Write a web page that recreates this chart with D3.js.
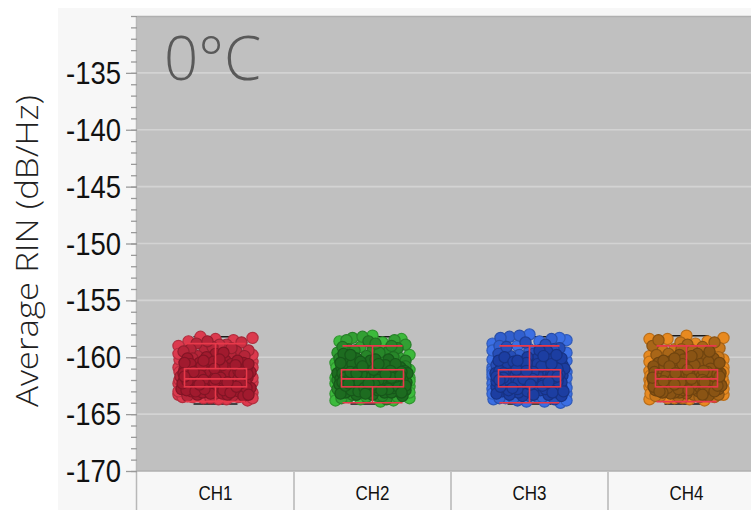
<!DOCTYPE html>
<html>
<head>
<meta charset="utf-8">
<script src="https://cdn.jsdelivr.net/npm/d3@7"></script>
<style>
  html, body { margin: 0; padding: 0; background: #ffffff; }
  svg { display: block; }
</style>
</head>
<body>
<svg id="chart" width="751" height="510"></svg>
<script>
// Channel names along the x axis
const channels = ["CH1", "CH2", "CH3", "CH4"];

// Average RIN readings (dB/Hz) per channel
const ch1Values = [
  -161.4, -162.1, -160.8, -163.2, -161.9, -159.7, -162.5, -161.1, -163.6, -160.3,
  -162.0, -161.6, -158.4, -162.8, -161.3, -163.0, -160.9, -162.3, -161.8, -159.2,
  -162.6, -161.0, -163.4, -160.5, -161.7, -162.2, -158.9, -162.9, -161.5, -163.7,
  -160.1, -162.4, -161.2, -159.5, -162.7, -161.9, -163.3, -160.7, -161.4, -162.0,
  -158.2, -162.5, -161.8, -163.1, -160.4, -161.6, -162.3, -159.9, -162.8, -161.1,
  -163.5, -160.6, -162.1, -161.3, -158.6, -162.6, -161.9, -163.8, -160.2, -161.5,
  -162.4, -159.4, -162.9, -161.7, -163.0, -160.8, -162.2, -161.0, -159.0, -162.7,
  -161.6, -163.3, -160.9, -162.0, -161.2, -158.7, -162.5, -161.8, -163.6, -160.0,
  -161.4, -162.3, -159.6, -162.8, -161.5, -163.2, -160.5, -162.1, -161.9, -158.3,
  -162.6, -161.3, -163.4, -160.3, -161.7, -162.4, -159.8, -163.0, -161.1, -162.2,
  -161.2, -162.4, -160.6, -163.1, -161.8, -159.9, -162.7, -161.4, -163.5, -160.4,
  -162.2, -161.7, -158.8, -162.9, -161.0, -163.3, -160.7, -162.0, -161.6, -159.3,
  -162.5, -161.3, -163.6, -160.2, -161.9, -162.3, -158.5, -162.8, -161.5, -163.2,
  -160.9, -162.6, -161.1, -159.1, -162.1, -161.8, -163.4, -160.5, -161.7, -162.4,
  -159.8, -162.9, -161.4, -163.0, -160.8, -161.9, -162.5, -159.5, -162.2, -161.6,
  -163.7, -160.1, -162.0, -161.2, -158.9, -162.7, -161.5, -163.1, -160.6, -161.3,
  -162.3, -159.7, -162.6, -161.8, -163.5, -160.3, -162.1, -161.0, -159.2, -162.8,
  -161.9, -163.3, -160.7, -162.4, -161.4, -158.6, -162.2, -161.7, -163.0, -160.0
];
const ch2Values = [
  -161.5, -162.0, -160.6, -163.3, -161.8, -159.4, -162.4, -161.2, -163.7, -160.2,
  -162.1, -161.7, -158.1, -162.9, -161.4, -163.1, -160.8, -162.3, -161.9, -159.1,
  -162.6, -161.1, -163.5, -160.4, -161.6, -162.2, -158.7, -162.8, -161.3, -163.8,
  -160.0, -162.5, -161.0, -159.6, -162.7, -161.9, -163.2, -160.9, -161.5, -162.0,
  -158.3, -162.4, -161.7, -163.0, -160.5, -161.8, -162.2, -159.8, -162.9, -161.2,
  -163.6, -160.7, -162.1, -161.4, -158.5, -162.6, -161.9, -163.9, -160.1, -161.6,
  -162.3, -159.3, -163.0, -161.8, -163.1, -160.9, -162.2, -161.0, -158.9, -162.7,
  -161.6, -163.4, -160.8, -162.0, -161.3, -158.6, -162.5, -161.9, -163.6, -160.3,
  -161.4, -162.4, -159.5, -162.8, -161.5, -163.3, -160.6, -162.1, -161.7, -158.2,
  -162.6, -161.2, -163.5, -160.2, -161.8, -162.3, -159.9, -163.1, -161.0, -162.2,
  -161.3, -162.5, -160.7, -163.0, -161.9, -159.7, -162.6, -161.5, -163.4, -160.3,
  -162.1, -161.8, -158.6, -162.8, -161.1, -163.2, -160.6, -162.2, -161.7, -159.2,
  -162.4, -161.4, -163.7, -160.1, -161.8, -162.3, -158.4, -162.9, -161.6, -163.1,
  -160.8, -162.7, -161.2, -159.0, -162.0, -161.9, -163.5, -160.4, -161.6, -162.5,
  -159.6, -162.8, -161.3, -163.3, -160.9, -162.0, -162.4, -159.4, -162.1, -161.5,
  -163.8, -160.2, -162.2, -161.1, -158.8, -162.6, -161.4, -163.0, -160.5, -161.2,
  -162.3, -159.8, -162.7, -161.7, -163.4, -160.6, -162.0, -161.3, -159.1, -162.9,
  -161.8, -163.2, -160.8, -162.5, -161.5, -158.5, -162.3, -161.6, -163.1, -160.0
];
const ch3Values = [
  -161.3, -162.0, -160.5, -163.4, -161.7, -159.3, -162.5, -161.0, -163.8, -160.1,
  -162.1, -161.6, -158.0, -162.9, -161.2, -163.1, -160.7, -162.3, -161.8, -159.0,
  -162.6, -160.9, -163.6, -160.3, -161.5, -162.2, -158.6, -162.8, -161.4, -163.9,
  -159.9, -162.4, -161.1, -159.5, -162.7, -161.8, -163.2, -160.8, -161.3, -161.9,
  -158.2, -162.5, -161.7, -163.0, -160.4, -161.5, -162.2, -159.7, -162.9, -161.0,
  -163.7, -160.6, -162.0, -161.2, -158.4, -162.6, -161.8, -164.0, -160.0, -161.4,
  -162.3, -159.2, -163.0, -161.6, -163.3, -160.8, -162.1, -160.9, -158.8, -162.7,
  -161.5, -163.5, -160.7, -161.9, -161.1, -158.5, -162.4, -161.7, -163.7, -160.2,
  -161.3, -162.3, -159.4, -162.8, -161.4, -163.2, -160.5, -162.0, -161.6, -158.1,
  -162.6, -161.2, -163.4, -160.3, -161.6, -162.2, -159.8, -163.1, -161.0, -162.1,
  -161.1, -162.3, -160.4, -163.3, -161.6, -159.6, -162.8, -161.3, -163.6, -160.2,
  -162.0, -161.9, -158.3, -162.7, -161.0, -163.4, -160.6, -162.1, -161.5, -159.1,
  -162.4, -161.2, -163.8, -160.0, -161.7, -162.2, -158.7, -162.9, -161.4, -163.0,
  -160.7, -162.5, -161.0, -159.3, -162.1, -161.7, -163.5, -160.5, -161.8, -162.3,
  -159.7, -162.6, -161.2, -163.1, -160.8, -161.8, -162.4, -159.4, -162.0, -161.5,
  -163.9, -160.1, -162.1, -161.3, -158.9, -162.8, -161.6, -163.2, -160.4, -161.1,
  -162.2, -159.9, -162.5, -161.9, -163.6, -160.3, -161.9, -161.0, -159.0, -162.7,
  -161.7, -163.3, -160.6, -162.4, -161.2, -158.3, -162.2, -161.5, -163.0, -159.8
];
const ch4Values = [
  -161.5, -162.1, -160.7, -163.2, -161.9, -159.6, -162.4, -161.2, -163.6, -160.3,
  -162.0, -161.7, -158.1, -162.8, -161.4, -163.0, -160.9, -162.3, -161.8, -159.3,
  -162.6, -161.1, -163.4, -160.5, -161.6, -162.2, -158.8, -162.9, -161.5, -163.7,
  -160.1, -162.5, -161.2, -159.4, -162.7, -161.9, -163.3, -160.8, -161.4, -162.0,
  -158.4, -162.4, -161.8, -163.1, -160.4, -161.7, -162.3, -159.9, -162.8, -161.1,
  -163.5, -160.6, -162.1, -161.3, -158.6, -162.6, -161.9, -163.8, -160.2, -161.6,
  -162.3, -159.2, -162.9, -161.7, -163.0, -160.9, -162.2, -161.0, -159.0, -162.7,
  -161.6, -163.3, -160.8, -162.0, -161.3, -158.7, -162.5, -161.8, -163.6, -160.0,
  -161.5, -162.2, -159.7, -162.8, -161.4, -163.2, -160.6, -162.1, -161.9, -158.3,
  -162.6, -161.3, -163.4, -160.4, -161.7, -162.4, -159.8, -163.0, -161.1, -162.2,
  -161.2, -162.3, -160.8, -163.1, -161.7, -159.8, -162.6, -161.4, -163.5, -160.4,
  -162.2, -161.9, -158.9, -162.9, -161.0, -163.3, -160.6, -162.0, -161.5, -159.5,
  -162.4, -161.3, -163.6, -160.2, -161.8, -162.1, -158.5, -162.7, -161.6, -163.2,
  -160.9, -162.5, -161.1, -159.1, -162.0, -161.7, -163.4, -160.5, -161.9, -162.4,
  -159.7, -162.8, -161.4, -163.0, -160.7, -161.8, -162.6, -159.4, -162.3, -161.5,
  -163.7, -160.3, -162.2, -161.2, -158.7, -162.7, -161.6, -163.1, -160.6, -161.3,
  -162.1, -159.9, -162.5, -161.8, -163.5, -160.1, -162.0, -161.1, -159.3, -162.9,
  -161.9, -163.3, -160.8, -162.4, -161.4, -158.4, -162.2, -161.7, -163.0, -160.0
];

// Box statistics per channel (dB/Hz)
const whiskerHigh = [-158.8, -159.0, -159.0, -159.0];
const q3 = [-161.0, -161.1, -161.1, -161.1];
const medians = [-161.9, -161.9, -161.7, -161.9];
const q1 = [-162.6, -162.6, -162.6, -162.6];
const whiskerLow = [-163.9, -164.0, -164.0, -163.9];
const maxima = [-158.2, -158.2, -158.2, -158.1];
const minima = [-164.1, -164.1, -164.1, -164.1];

// Axis ticks
const majorTicks = [-170, -165, -160, -155, -150, -145, -140, -135];
const minorTicks = d3.range(-170, -129, 1);

// Point colours per channel: outer (edge) shade and overlapped (interior) shade
const lightFill = ["#dc3a4e", "#3cba3c", "#3b6fe4", "#e88a20"];
const denseFill = ["#a11a2e", "#1d6c20", "#1c3ea2", "#8a5414"];

const series = [ch1Values, ch2Values, ch3Values, ch4Values];

const svg = d3.select("#chart");
const plot = { left: 137, right: 765, top: 16, bottom: 471 };

const x = d3.scaleBand().domain(channels).range([plot.left, plot.right]).padding(0);
const y = d3.scaleLinear().domain([-170, -130]).range([plot.bottom, plot.top]);

const narrowFont = "'Liberation Sans', Arial, sans-serif";

// light panel behind the chart
svg.append("rect")
  .attr("x", 58).attr("y", 8).attr("width", 700).attr("height", 510)
  .attr("fill", "#f7f7f7");

// plot background
svg.append("rect")
  .attr("x", plot.left).attr("y", plot.top)
  .attr("width", plot.right - plot.left).attr("height", plot.bottom - plot.top)
  .attr("fill", "#c0c0c0");

// horizontal gridlines
svg.append("g").selectAll("line")
  .data(majorTicks.filter(t => t > -170))
  .join("line")
  .attr("x1", plot.left).attr("x2", plot.right)
  .attr("y1", d => y(d)).attr("y2", d => y(d))
  .attr("stroke", "#d3d3d3").attr("stroke-width", 1.6);

// plot frame lines
svg.append("line")
  .attr("x1", plot.left).attr("x2", plot.right)
  .attr("y1", plot.top + 0.5).attr("y2", plot.top + 0.5)
  .attr("stroke", "#b0b0b0").attr("stroke-width", 1.5);
svg.append("line")
  .attr("x1", plot.left).attr("x2", plot.right)
  .attr("y1", plot.bottom).attr("y2", plot.bottom)
  .attr("stroke", "#b0b0b0").attr("stroke-width", 1.5);
svg.append("line")
  .attr("x1", plot.left - 0.5).attr("x2", plot.left - 0.5)
  .attr("y1", plot.top).attr("y2", 510)
  .attr("stroke", "#b8b8b8").attr("stroke-width", 1.5);

// category band separators
svg.append("g").selectAll("line")
  .data(channels.slice(1))
  .join("line")
  .attr("x1", d => x(d)).attr("x2", d => x(d))
  .attr("y1", plot.bottom + 1).attr("y2", 510)
  .attr("stroke", "#c6c6c6").attr("stroke-width", 2);

// category labels
const xAxis = d3.axisBottom(x).tickSize(0).tickPadding(0);
const gx = svg.append("g").attr("transform", `translate(0,${plot.bottom})`).call(xAxis);
gx.select(".domain").remove();
gx.selectAll("text")
  .attr("dy", null)
  .attr("y", 29)
  .attr("fill", "#111")
  .attr("textLength", 34)
  .attr("lengthAdjust", "spacingAndGlyphs")
  .style("font-family", narrowFont)
  .style("font-size", "20px");

// minor ticks
const gMinor = svg.append("g").attr("transform", `translate(${plot.left},0)`)
  .call(d3.axisLeft(y).tickValues(minorTicks).tickSize(6).tickFormat(""));
gMinor.select(".domain").remove();
gMinor.selectAll("line").attr("stroke", "#9a9a9a").attr("stroke-width", 1.3);

// major ticks with labels
const gMajor = svg.append("g").attr("transform", `translate(${plot.left},0)`)
  .call(d3.axisLeft(y).tickValues(majorTicks).tickSize(11).tickPadding(5).tickFormat(d => String(d)));
gMajor.select(".domain").remove();
gMajor.selectAll("line").attr("stroke", "#9a9a9a").attr("stroke-width", 1.3);
gMajor.selectAll("text")
  .attr("fill", "#111")
  .attr("dy", "0.33em")
  .attr("textLength", 55)
  .attr("lengthAdjust", "spacingAndGlyphs")
  .style("font-family", narrowFont)
  .style("font-size", "32px");

// y axis title
svg.append("text")
  .attr("transform", "translate(38,251) rotate(-90)")
  .attr("text-anchor", "middle")
  .attr("fill", "#222")
  .attr("textLength", 312)
  .attr("lengthAdjust", "spacingAndGlyphs")
  .style("font-family", "'Open Sans', 'Noto Sans', sans-serif")
  .style("font-weight", 300)
  .style("font-size", "31px")
  .text("Average RIN (dB/Hz)");

// temperature label
svg.append("text")
  .attr("x", 164).attr("y", 80)
  .attr("fill", "#595959")
  .style("font-family", "'Open Sans', 'Noto Sans', sans-serif")
  .style("font-weight", 300)
  .style("font-size", "60px")
  .text("0°C");

// spread points sideways so each one lands in the widest free gap
function swarm(values, half) {
  const placed = [];
  return values.map(v => {
    const py = y(v);
    let best = 0, bestScore = -Infinity;
    for (let dx = -half; dx <= half; dx += 1) {
      let m = Infinity;
      for (const p of placed) {
        const d = Math.hypot(p.dx - dx, p.py - py);
        if (d < m) m = d;
      }
      const score = Math.min(m, 12) - Math.abs(dx) * 0.001;
      if (score > bestScore) { bestScore = score; best = dx; }
    }
    placed.push({ dx: best, py });
    return { v, dx: best, py };
  });
}

// how enclosed each point is: neighbours on its least-covered side
function enclosure(pts) {
  pts.forEach(p => {
    const near = pts.filter(q => q !== p && Math.hypot(q.dx - p.dx, q.py - p.py) < 11);
    const sides = [
      near.filter(q => q.dx < p.dx - 1).length,
      near.filter(q => q.dx > p.dx + 1).length,
      near.filter(q => q.py < p.py - 1).length,
      near.filter(q => q.py > p.py + 1).length
    ];
    p.t = Math.max(0, Math.min(1, d3.min(sides) / 3));
  });
  return pts.sort((a, b) => a.t - b.t);
}

const boxW = 62, capW = 60, extW = 44;

channels.forEach((ch, i) => {
  const cx = x(ch) + x.bandwidth() / 2;
  const g = svg.append("g");

  // extreme value markers (behind the points)
  g.selectAll("line.ext")
    .data([maxima[i], minima[i]])
    .join("line")
    .attr("class", "ext")
    .attr("x1", cx - extW / 2).attr("x2", cx + extW / 2)
    .attr("y1", d => y(d)).attr("y2", d => y(d))
    .attr("stroke", "#1a1a1a").attr("stroke-width", 1.5);

  // data points, shaded darker where they are covered by others
  const shade = d3.interpolateRgb(lightFill[i], denseFill[i]);
  g.selectAll("circle")
    .data(enclosure(swarm(series[i], 37)))
    .join("circle")
    .attr("cx", d => cx + d.dx)
    .attr("cy", d => y(d.v))
    .attr("r", 5.6)
    .attr("fill", d => shade(d.t))
    .attr("stroke", d => d3.color(shade(d.t)).darker(0.6))
    .attr("stroke-width", 1.2);

  // box and whiskers
  const red = "#e8394a";
  g.append("rect")
    .attr("x", cx - boxW / 2).attr("y", y(q3[i]))
    .attr("width", boxW).attr("height", y(q1[i]) - y(q3[i]))
    .attr("fill", "none").attr("stroke", red).attr("stroke-width", 1.6);
  g.append("line")
    .attr("x1", cx - boxW / 2).attr("x2", cx + boxW / 2)
    .attr("y1", y(medians[i])).attr("y2", y(medians[i]))
    .attr("stroke", red).attr("stroke-width", 1.6);
  g.selectAll("line.whisker")
    .data([[whiskerHigh[i], q3[i]], [q1[i], whiskerLow[i]]])
    .join("line")
    .attr("class", "whisker")
    .attr("x1", cx).attr("x2", cx)
    .attr("y1", d => y(d[0])).attr("y2", d => y(d[1]))
    .attr("stroke", red).attr("stroke-width", 1.6);
  g.selectAll("line.cap")
    .data([whiskerHigh[i], whiskerLow[i]])
    .join("line")
    .attr("class", "cap")
    .attr("x1", cx - capW / 2).attr("x2", cx + capW / 2)
    .attr("y1", d => y(d)).attr("y2", d => y(d))
    .attr("stroke", red).attr("stroke-width", 1.6);
});
</script>
</body>
</html>
